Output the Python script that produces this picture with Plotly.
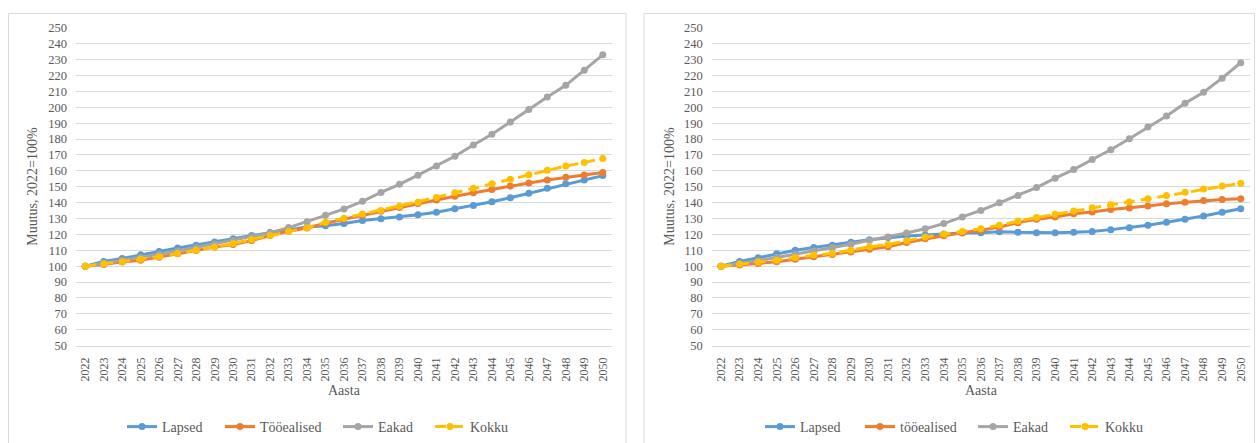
import plotly.graph_objects as go

years = list(range(2022, 2051))
year_labels = [str(y) for y in years]
y_ticks = list(range(50, 251, 10))

# Left chart
left_names = ["Lapsed", "Tööealised", "Eakad", "Kokku"]
left_lapsed = [100, 103, 104.8, 107.2, 109.3, 111.4, 113.2, 115.2, 117.2, 119.3,
               121.2, 123, 124.6, 125.5, 126.8, 128.8, 129.9, 131, 132.3, 134,
               136.1, 138.2, 140.5, 143.1, 145.9, 149, 151.8, 154.3, 157]
left_too = [100, 101, 102.7, 103.8, 105.7, 107.8, 109.8, 112, 113.6, 116.1,
            119.3, 122, 124, 127, 129.5, 132, 134.5, 137, 139.4, 141.7,
            144, 146.2, 148.3, 150.4, 152.4, 154.2, 155.9, 157.4, 158.9]
left_eakad = [100, 101.8, 103.6, 105.5, 107.5, 109.6, 111.8, 114, 116.2, 118.6,
              121, 124.3, 128, 132, 136, 140.8, 146.4, 151.5, 157.3, 163,
              169.2, 176.3, 183, 190.7, 198.6, 206.4, 213.8, 223.3, 233]
left_kokku = [100, 101.5, 102.8, 104.3, 106, 108, 110, 112, 114.3, 116.8,
              119.3, 121.8, 124.2, 127.6, 130.2, 132.8, 135.1, 137.7, 140.3, 143.2,
              146.2, 149, 151.8, 154.7, 157.6, 160.4, 163, 165.3, 167.8]

# Right chart
right_names = ["Lapsed", "tööealised", "Eakad", "Kokku"]
right_lapsed = [100, 103, 105.3, 107.8, 110, 111.7, 113.2, 115, 116.7, 118,
                119, 119.6, 120.3, 120.9, 121.1, 121.7, 121.3, 121.1, 121.1, 121.3,
                121.9, 123, 124.2, 125.7, 127.7, 129.5, 131.6, 133.9, 136.2]
right_too = [100, 100.7, 101.7, 102.8, 104.4, 105.9, 107.4, 109, 110.7, 112.2,
             114.9, 117.2, 119.1, 121, 122.6, 124.7, 127.4, 129.5, 131, 133,
             134.1, 135.7, 136.6, 137.8, 139.3, 140.3, 141.4, 142, 142.4]
right_eakad = [100, 101.6, 103.5, 105.5, 107.5, 109.5, 111.6, 113.8, 116.3, 118.4,
               120.9, 123.6, 126.8, 131, 135.1, 139.9, 144.5, 149.5, 155.4, 160.8,
               167.1, 173.3, 180.2, 187.6, 194.5, 202.5, 209.5, 218.3, 228]
right_kokku = [100, 101.3, 102.4, 103.8, 105.5, 107, 108.1, 110.1, 112.2, 113.6,
               116, 118.4, 120.1, 121.8, 123.6, 125.7, 128.4, 130.6, 132.7, 134.8,
               136.7, 138.6, 140.4, 142.4, 144.5, 146.5, 148.6, 150.4, 152.2]

colors = ["#5B9BD5", "#ED7D31", "#A5A5A5", "#FFC000"]
dashes = ["solid", "solid", "solid", "11px,6px"]

W, H = 1256, 443
FONT = "Liberation Serif, Times New Roman, serif"
TXT = "#595959"

# legend entry left edges (px), one legend per entry
left_leg_x = [122, 220, 338, 430]
right_leg_x = [760, 860, 973, 1065]

fig = go.Figure()

left_series = [left_lapsed, left_too, left_eakad, left_kokku]
right_series = [right_lapsed, right_too, right_eakad, right_kokku]

legend_layouts = {}
k = 0
for axis_x, axis_y, names, series, legx in [
        ("x", "y", left_names, left_series, left_leg_x),
        ("x2", "y2", right_names, right_series, right_leg_x)]:
    for i, (name, vals) in enumerate(zip(names, series)):
        k += 1
        lname = "legend" if k == 1 else f"legend{k}"
        fig.add_trace(go.Scatter(
            x=years, y=vals, name=name, mode="lines+markers",
            line=dict(color=colors[i], width=3, dash=dashes[i]),
            marker=dict(color=colors[i], size=7, symbol="circle"),
            xaxis=axis_x, yaxis=axis_y, legend=lname))
        legend_layouts[lname] = dict(
            orientation="h", x=legx[i] / W, xanchor="left",
            y=1 - 430 / H, yanchor="middle",
            font=dict(family=FONT, size=14, color=TXT),
            bgcolor="rgba(0,0,0,0)", borderwidth=0, itemwidth=30)

ydom = [1 - 348 / H, 1 - 28 / H]
xdom1 = [76 / W, 612 / W]
xdom2 = [711.7 / W, 1250 / W]

def xaxis_cfg(dom, anchor):
    return dict(domain=dom, anchor=anchor, range=[2021.5, 2050.5],
                tickmode="array", tickvals=years, ticktext=year_labels,
                tickangle=-90, showgrid=False, zeroline=False,
                showline=True, linecolor="#d9d9d9", linewidth=1,
                ticks="", ticklabelstandoff=6, automargin=False,
                tickfont=dict(family=FONT, size=12, color=TXT))

def yaxis_cfg(anchor):
    return dict(domain=ydom, anchor=anchor, range=[50, 250],
                tickmode="array", tickvals=y_ticks,
                showgrid=True, gridcolor="#d9d9d9", gridwidth=1,
                zeroline=False, showline=False, ticks="",
                ticklabelstandoff=8, automargin=False,
                tickfont=dict(family=FONT, size=12.5, color=TXT))

fig.update_layout(
    width=W, height=H, autosize=False,
    margin=dict(l=0, r=0, t=0, b=0, pad=0),
    paper_bgcolor="white", plot_bgcolor="white",
    xaxis=xaxis_cfg(xdom1, "y"),
    yaxis=yaxis_cfg("x"),
    xaxis2=xaxis_cfg(xdom2, "y2"),
    yaxis2=yaxis_cfg("x2"),
    showlegend=True,
    shapes=[
        dict(type="rect", xref="paper", yref="paper",
             x0=8.5 / W, x1=626 / W, y0=-0.05, y1=1 - 13.5 / H,
             line=dict(color="#d9d9d9", width=1), fillcolor="rgba(0,0,0,0)"),
        dict(type="rect", xref="paper", yref="paper",
             x0=644 / W, x1=1254.5 / W, y0=-0.05, y1=1 - 13.5 / H,
             line=dict(color="#d9d9d9", width=1), fillcolor="rgba(0,0,0,0)"),
    ],
    annotations=[
        dict(text="Muutus, 2022=100%", xref="paper", yref="paper",
             x=33 / W, y=1 - 188 / H, textangle=-90, showarrow=False,
             xanchor="center", yanchor="middle",
             font=dict(family=FONT, size=14, color=TXT)),
        dict(text="Aasta", xref="paper", yref="paper",
             x=344 / W, y=1 - 393 / H, showarrow=False,
             xanchor="center", yanchor="middle",
             font=dict(family=FONT, size=14, color=TXT)),
        dict(text="Muutus, 2022=100%", xref="paper", yref="paper",
             x=670 / W, y=1 - 188 / H, textangle=-90, showarrow=False,
             xanchor="center", yanchor="middle",
             font=dict(family=FONT, size=14, color=TXT)),
        dict(text="Aasta", xref="paper", yref="paper",
             x=981 / W, y=1 - 393 / H, showarrow=False,
             xanchor="center", yanchor="middle",
             font=dict(family=FONT, size=14, color=TXT)),
    ],
    **legend_layouts,
)

fig.write_html(
    "out.html",
    config={"displayModeBar": False},
    post_script="document.body.style.margin='0px';"
                "document.body.style.overflow='hidden';",
)
